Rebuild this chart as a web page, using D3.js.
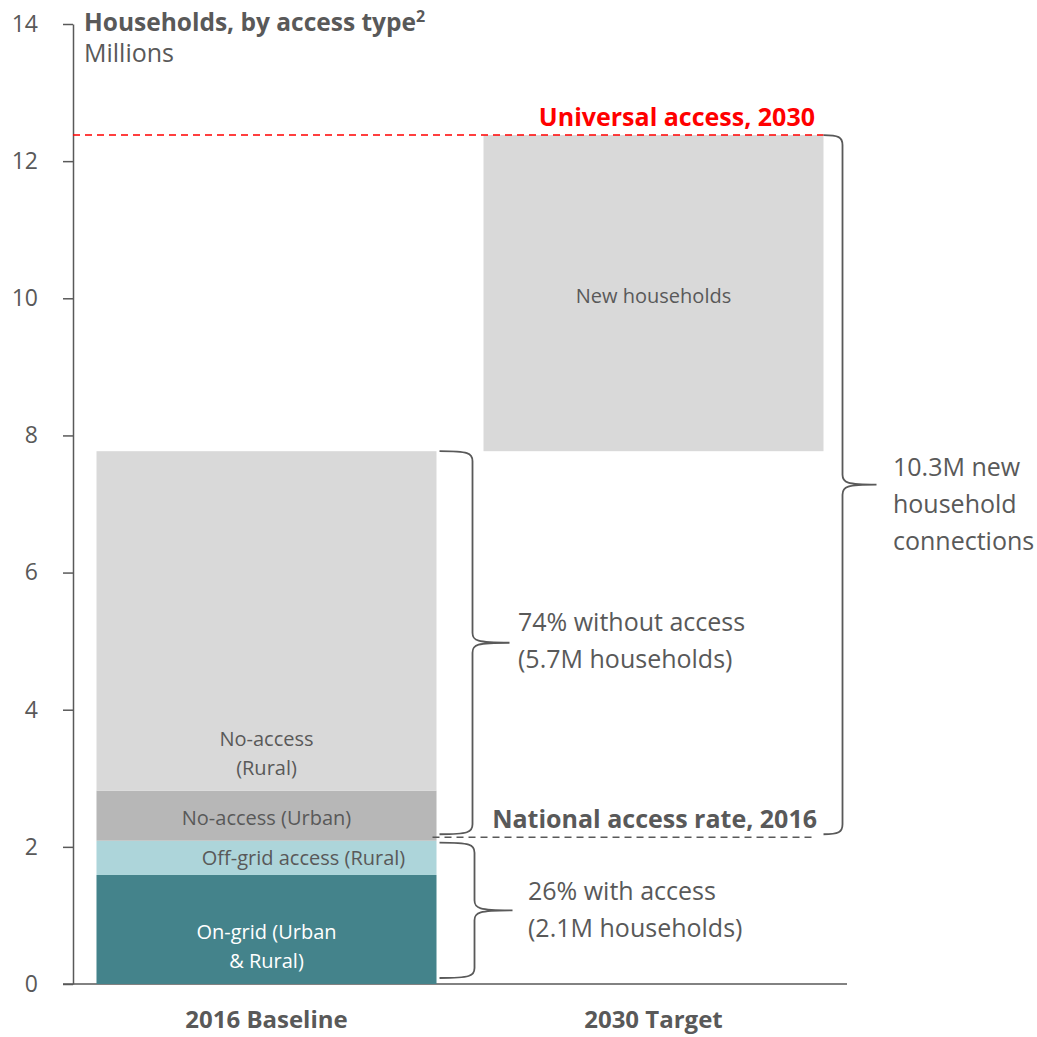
<!DOCTYPE html>
<html>
<head>
<meta charset="utf-8">
<script src="https://cdn.jsdelivr.net/npm/d3@7"></script>
<style>
  html, body { margin: 0; padding: 0; background: #fff; }
  svg { display: block; font-family: "Open Sans", "Noto Sans", sans-serif; }
</style>
</head>
<body>
<svg id="chart" width="1037" height="1037"></svg>
<script>
// ---- data ----
const categories = ["2016 Baseline", "2030 Target"];
const baselineSegments = ["On-grid (Urban & Rural)", "Off-grid access (Rural)", "No-access (Urban)", "No-access (Rural)"];
const baselineValues = [1.59, 0.50, 0.73, 4.95];
const targetSegments = ["New households"];
const targetBase = 7.77;
const targetValues = [4.61];
const yTicks = [0, 2, 4, 6, 8, 10, 12, 14];
const universalAccess = 12.38;
const nationalAccess = 2.14;
const withoutAccessLines = ["74% without access", "(5.7M households)"];
const withAccessLines = ["26% with access", "(2.1M households)"];
const newConnLines = ["10.3M new", "household", "connections"];

// ---- layout ----
const svg = d3.select("#chart");
const textColor = "#595959";
const segColors = ["#44838B", "#ADD5DA", "#B7B7B7", "#D9D9D9"];
const targetColor = "#D9D9D9";

const y = d3.scaleLinear().domain([0, 14]).range([984, 24]);
const x = d3.scaleBand().domain(categories).range([73, 847]).paddingInner(0.1214).paddingOuter(0.0607);

// axis
const yAxis = d3.axisLeft(y).tickValues(yTicks).tickSize(10).tickSizeOuter(0).tickPadding(25).tickFormat(d3.format("d"));
const gy = svg.append("g").attr("transform", "translate(73,0)").call(yAxis);
gy.select(".domain").attr("stroke", textColor).attr("stroke-width", 1.5);
gy.selectAll(".tick line").attr("stroke", textColor).attr("stroke-width", 1.5);
gy.selectAll(".tick text").attr("fill", textColor).style("font-size", "23px").style("font-family", "'Open Sans', sans-serif");

// x axis baseline
svg.append("line").attr("x1", 63).attr("x2", 847).attr("y1", y(0)).attr("y2", y(0))
  .attr("stroke", textColor).attr("stroke-width", 1.5);

// stacked baseline
let acc = 0;
const baseStack = baselineValues.map((v, i) => { const s = { name: baselineSegments[i], y0: acc, y1: acc + v, color: segColors[i] }; acc += v; return s; });
const bx = x(categories[0]), bw = x.bandwidth();
svg.append("g").selectAll("rect").data(baseStack).join("rect")
  .attr("x", bx).attr("width", bw)
  .attr("y", d => y(d.y1)).attr("height", d => y(d.y0) - y(d.y1))
  .attr("fill", d => d.color);

// target
const tx = x(categories[1]);
const tStack = targetValues.map((v, i) => ({ name: targetSegments[i], y0: targetBase, y1: targetBase + v }));
svg.append("g").selectAll("rect").data(tStack).join("rect")
  .attr("x", tx).attr("width", bw)
  .attr("y", d => y(d.y1)).attr("height", d => y(d.y0) - y(d.y1))
  .attr("fill", targetColor);

// label helper
function lbl(xp, yp, lines, color, size, gap, anchor = "middle") {
  const t = svg.append("text").attr("x", xp).attr("y", yp).attr("fill", color)
    .attr("text-anchor", anchor).style("font-size", size + "px");
  lines.forEach((l, i) => t.append("tspan").attr("x", xp).attr("dy", i === 0 ? 0 : gap).text(l));
  return t;
}
const bc = bx + bw / 2, tc = tx + bw / 2;
lbl(bc, 939, ["On-grid (Urban", "& Rural)"], "#ffffff", 20, 29);
lbl(bc + 37, 865, ["Off-grid access (Rural)"], textColor, 20, 0);
lbl(bc, 825, ["No-access (Urban)"], textColor, 20, 0);
lbl(bc, 746, ["No-access", "(Rural)"], textColor, 20, 29);
lbl(tc, 303, targetSegments, textColor, 20, 0);

// reference lines
svg.append("line").attr("x1", 73).attr("x2", tx + bw).attr("y1", y(universalAccess)).attr("y2", y(universalAccess))
  .attr("stroke", "#FF0000").attr("stroke-width", 1.5).attr("stroke-dasharray", "7,5");
svg.append("text").attr("x", 815).attr("y", 126).attr("text-anchor", "end").attr("fill", "#FF0000")
  .style("font-size", "25px").style("font-weight", "bold").text("Universal access, 2030");

svg.append("line").attr("x1", bx + bw - 4).attr("x2", 812).attr("y1", y(nationalAccess)).attr("y2", y(nationalAccess))
  .attr("stroke", textColor).attr("stroke-width", 1.5).attr("stroke-dasharray", "7,5");
svg.append("text").attr("x", 817).attr("y", 828).attr("text-anchor", "end").attr("fill", textColor)
  .style("font-size", "25px").style("font-weight", "bold").text("National access rate, 2016");

// braces
function brace(x0, x1, x2, y1, y2) {
  const ym = (y1 + y2) / 2, r = 10;
  const p = d3.path();
  p.moveTo(x0, y1);
  p.bezierCurveTo(x1 - 4, y1, x1, y1 + 2, x1, y1 + r);
  p.lineTo(x1, ym - r);
  p.bezierCurveTo(x1, ym - 2, x1 + 4, ym, x2, ym);
  p.moveTo(x2, ym);
  p.bezierCurveTo(x1 + 4, ym, x1, ym + 2, x1, ym + r);
  p.lineTo(x1, y2 - r);
  p.bezierCurveTo(x1, y2 - 2, x1 - 4, y2, x0, y2);
  svg.append("path").attr("d", p.toString()).attr("fill", "none").attr("stroke", textColor).attr("stroke-width", 1.8);
}
brace(bx + bw + 3, bx + bw + 36, bx + bw + 73, y(baseStack[3].y1), y(nationalAccess) - 3);
brace(bx + bw + 3, bx + bw + 38, bx + bw + 76, y(baseStack[1].y1) + 2, y(0) - 6);
brace(tx + bw, tx + bw + 19, tx + bw + 53, y(universalAccess), y(nationalAccess) - 3);

// annotation texts
lbl(518, 631, withoutAccessLines, textColor, 25, 37, "start");
lbl(528, 900, withAccessLines, textColor, 25, 37, "start");
lbl(893, 476, newConnLines, textColor, 25, 37, "start");

// title
const title = svg.append("text").attr("x", 84).attr("y", 31).attr("fill", textColor).style("font-size", "24.5px").style("font-weight", "bold");
title.append("tspan").text("Households, by access type");
title.append("tspan").attr("dy", -9).style("font-size", "16px").text("2");
svg.append("text").attr("x", 84).attr("y", 62).attr("fill", textColor).style("font-size", "25px").text("Millions");

// category labels
svg.append("g").selectAll("text").data(categories).join("text")
  .attr("x", d => x(d) + bw / 2).attr("y", 1028).attr("text-anchor", "middle").attr("fill", textColor)
  .style("font-size", "24px").style("font-weight", "bold").text(d => d);
</script>
</body>
</html>
